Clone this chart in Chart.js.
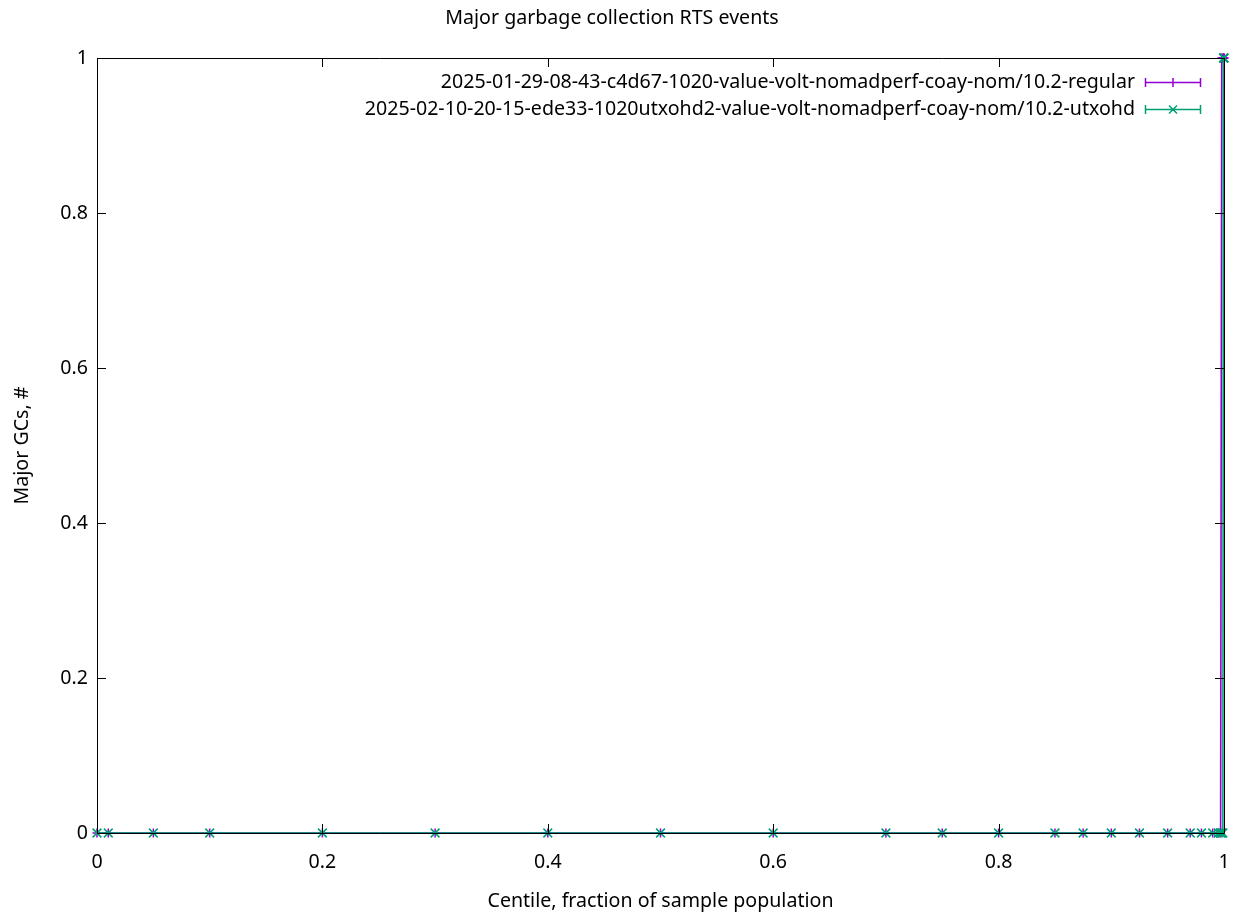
<!DOCTYPE html>
<html>
<head>
<meta charset="utf-8">
<title>Major garbage collection RTS events</title>
<script src="https://cdn.jsdelivr.net/npm/chart.js@4.4.1/dist/chart.umd.min.js"></script>
<style>
  html, body { margin: 0; padding: 0; background: #fff; }
  #wrap { width: 1237px; height: 917px; }
</style>
</head>
<body>
<div id="wrap"><canvas id="c" width="1237" height="917"></canvas></div>
<script>
// Centiles sampled for each run (fraction of sample population)
const centiles = [0, 0.01, 0.05, 0.1, 0.2, 0.3, 0.4, 0.5, 0.6, 0.7, 0.75, 0.8, 0.85, 0.875,
                  0.9, 0.925, 0.95, 0.97, 0.98, 0.99, 0.995, 0.997, 0.998, 0.999, 0.9995, 0.9999, 1];

// Major GC counts at each centile
const regularGCs = [0, 0, 0, 0, 0, 0, 0, 0, 0, 0, 0, 0, 0, 0,
                    0, 0, 0, 0, 0, 0, 0, 0, 1, 1, 1, 1, 1];
const utxohdGCs  = [0, 0, 0, 0, 0, 0, 0, 0, 0, 0, 0, 0, 0, 0,
                    0, 0, 0, 0, 0, 0, 0, 0, 0, 0, 1, 1, 1];

const seriesLabels = [
  '2025-01-29-08-43-c4d67-1020-value-volt-nomadperf-coay-nom/10.2-regular',
  '2025-02-10-20-15-ede33-1020utxohd2-value-volt-nomadperf-coay-nom/10.2-utxohd'
];
const xTicks = [0, 0.2, 0.4, 0.6, 0.8, 1];
const yTicks = [0, 0.2, 0.4, 0.6, 0.8, 1];

const FONT = '"Noto Sans", "Open Sans", "DejaVu Sans", sans-serif';
const FS = 19.6;
const PURPLE = '#9400d3';
const GREEN = '#009e73';

const toPoints = (ys) => centiles.map((x, i) => ({ x, y: ys[i] }));

// Box border with inward (and mirrored) tick marks, drawn over the data
const frame = {
  id: 'frame',
  afterDatasetsDraw(chart) {
    const { ctx, chartArea: a, scales } = chart;
    const tl = 9;
    ctx.save();
    ctx.strokeStyle = '#000';
    ctx.lineWidth = 1;
    ctx.beginPath();
    ctx.rect(Math.round(a.left) + 0.5, Math.round(a.top) + 0.5,
             Math.round(a.right - a.left), Math.round(a.bottom - a.top));
    for (const v of xTicks) {
      const px = Math.round(scales.x.getPixelForValue(v)) + 0.5;
      ctx.moveTo(px, a.bottom); ctx.lineTo(px, a.bottom - tl);
      ctx.moveTo(px, a.top); ctx.lineTo(px, a.top + tl);
    }
    for (const v of yTicks) {
      const py = Math.round(scales.y.getPixelForValue(v)) + 0.5;
      ctx.moveTo(a.left, py); ctx.lineTo(a.left + tl, py);
      ctx.moveTo(a.right, py); ctx.lineTo(a.right - tl, py);
    }
    ctx.stroke();
    ctx.restore();
  }
};

// Key in the top-right corner: right-aligned titles with an error-bar sample
const key = {
  id: 'key',
  afterDraw(chart) {
    const { ctx } = chart;
    const textRight = 1135, x0 = 1145, x1 = 1200, xm = 1173;
    ctx.save();
    ctx.font = FS + 'px ' + FONT;
    ctx.textAlign = 'right';
    ctx.textBaseline = 'middle';
    chart.data.datasets.forEach((ds, i) => {
      const y = 82 + i * 27;
      ctx.fillStyle = '#000';
      ctx.fillText(ds.label, textRight, y);
      ctx.strokeStyle = ds.borderColor;
      ctx.lineWidth = 1.5;
      ctx.beginPath();
      ctx.moveTo(x0, y + 0.5); ctx.lineTo(x1, y + 0.5);
      ctx.moveTo(x0 + 0.5, y - 4); ctx.lineTo(x0 + 0.5, y + 5);
      ctx.moveTo(x1 + 0.5, y - 4); ctx.lineTo(x1 + 0.5, y + 5);
      if (ds.pointStyle === 'cross') {
        ctx.moveTo(xm, y - 4); ctx.lineTo(xm, y + 5);
      } else {
        ctx.moveTo(xm - 4, y - 3.5); ctx.lineTo(xm + 4, y + 4.5);
        ctx.moveTo(xm + 4, y - 3.5); ctx.lineTo(xm - 4, y + 4.5);
      }
      ctx.stroke();
    });
    ctx.restore();
  }
};

new Chart(document.getElementById('c'), {
  type: 'scatter',
  data: {
    datasets: [
      {
        label: seriesLabels[0],
        data: toPoints(regularGCs),
        showLine: true,
        clip: false,
        borderColor: PURPLE,
        backgroundColor: PURPLE,
        borderWidth: 1.6,
        pointStyle: 'cross',
        pointRadius: 4.5,
        pointBorderWidth: 1.5,
        order: 1
      },
      {
        label: seriesLabels[1],
        data: toPoints(utxohdGCs),
        showLine: true,
        clip: false,
        borderColor: GREEN,
        backgroundColor: GREEN,
        borderWidth: 1.6,
        pointStyle: 'crossRot',
        pointRadius: 6.2,
        pointBorderWidth: 1.5,
        order: 0
      }
    ]
  },
  options: {
    responsive: false,
    animation: false,
    layout: { padding: { left: 0, right: 13, top: 0, bottom: 0 } },
    plugins: {
      legend: { display: false },
      tooltip: { enabled: false },
      title: {
        display: true,
        text: 'Major garbage collection RTS events',
        color: '#000',
        font: { family: FONT, size: FS, weight: 'normal' },
        padding: { top: 6.2, bottom: 28.3 }
      }
    },
    scales: {
      x: {
        type: 'linear',
        position: 'bottom',
        min: 0,
        max: 1,
        afterFit(scale) { scale.height = 84; scale.paddingLeft = 0; scale.paddingRight = 0; },
        afterBuildTicks(scale) { scale.ticks = xTicks.map(v => ({ value: v })); },
        grid: { display: false, drawTicks: false },
        border: { display: false },
        ticks: {
          color: '#000',
          font: { family: FONT, size: FS },
          padding: 17.2,
          maxRotation: 0,
          callback: (v) => String(Number(v.toFixed(1)))
        },
        title: {
          display: true,
          text: 'Centile, fraction of sample population',
          color: '#000',
          font: { family: FONT, size: FS },
          padding: { bottom: 4.2, top: 0 }
        }
      },
      y: {
        type: 'linear',
        min: 0,
        max: 1,
        afterFit(scale) { scale.width = 97; scale.paddingTop = 0; scale.paddingBottom = 0; },
        afterBuildTicks(scale) { scale.ticks = yTicks.map(v => ({ value: v })); },
        grid: { display: false, drawTicks: false },
        border: { display: false },
        ticks: {
          color: '#000',
          font: { family: FONT, size: FS },
          padding: 9,
          callback: (v) => String(Number(v.toFixed(1)))
        },
        title: {
          display: true,
          text: 'Major GCs, #',
          color: '#000',
          font: { family: FONT, size: FS },
          padding: { top: 10.2, bottom: 0 }
        }
      }
    }
  },
  plugins: [frame, key]
});
</script>
</body>
</html>
